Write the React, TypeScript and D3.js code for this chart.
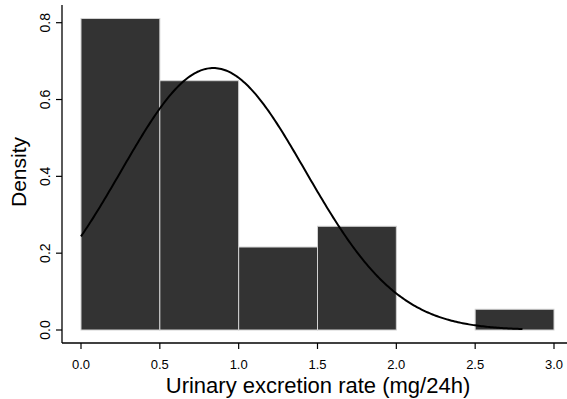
import React from "react";
import * as d3 from "d3";

// Histogram bins (lower edges, width 0.5) and their densities
const binStarts = [0.0, 0.5, 1.0, 1.5, 2.0, 2.5];
const binWidth = 0.5;
const densities = [0.811, 0.649, 0.216, 0.27, 0.0, 0.054];

// Fitted normal density overlay
const normalMean = 0.839;
const normalSd = 0.585;
const curveRange = [0.0, 2.8];

const xTicks = [0, 0.5, 1, 1.5, 2, 2.5, 3];
const yTicks = [0, 0.2, 0.4, 0.6, 0.8];

const W = 567;
const H = 399;

export default function App() {
  const x = d3.scaleLinear().domain([0, 3]).range([81, 554]);
  const y = d3.scaleLinear().domain([0, 0.8]).range([330, 22.7]);

  const axisX = 62;
  const axisY = 343;
  const axisTop = 5;

  const pdf = (v: number) =>
    Math.exp(-((v - normalMean) ** 2) / (2 * normalSd * normalSd)) /
    (normalSd * Math.sqrt(2 * Math.PI));
  const curvePts = d3
    .range(curveRange[0], curveRange[1] + 1e-9, 0.01)
    .map((v) => [v, pdf(v)] as [number, number]);
  const line = d3
    .line<[number, number]>()
    .x((d) => x(d[0]))
    .y((d) => y(d[1]));

  const font = "'Liberation Sans', Arial, Helvetica, sans-serif";

  return (
    <svg
      width={W}
      height={H}
      style={{ position: "absolute", left: 0, top: 0, background: "#fff" }}
      fontFamily={font}
    >
      <rect x={0} y={0} width={W} height={H} fill="#fff" />
      {binStarts.map((b, i) => (
        <rect
          key={i}
          x={x(b)}
          y={y(densities[i])}
          width={x(b + binWidth) - x(b)}
          height={y(0) - y(densities[i])}
          fill="#333333"
          stroke="#d2d2d2"
          strokeWidth={1}
        />
      ))}
      <path d={line(curvePts) || ""} fill="none" stroke="#000" strokeWidth={2} />

      {/* axes */}
      <line x1={axisX} x2={axisX} y1={axisTop} y2={axisY} stroke="#000" strokeWidth={1.3} />
      <line x1={axisX} x2={W} y1={axisY} y2={axisY} stroke="#000" strokeWidth={1.3} />

      {yTicks.map((t) => (
        <g key={t}>
          <line x1={axisX - 6} x2={axisX} y1={y(t)} y2={y(t)} stroke="#000" strokeWidth={1.2} />
          <text
            transform={`translate(50,${y(t)}) rotate(-90)`}
            textAnchor="middle"
            fontSize={14}
            fill="#000"
          >
            {t.toFixed(1)}
          </text>
        </g>
      ))}
      {xTicks.map((t) => (
        <g key={t}>
          <line x1={x(t)} x2={x(t)} y1={axisY} y2={axisY + 6} stroke="#000" strokeWidth={1.2} />
          <text x={x(t)} y={369} textAnchor="middle" fontSize={13} fill="#000">
            {t.toFixed(1)}
          </text>
        </g>
      ))}

      <text
        transform={`translate(26,172) rotate(-90)`}
        textAnchor="middle"
        fontSize={21}
        fill="#000"
      >
        Density
      </text>
      <text x={318} y={393} textAnchor="middle" fontSize={22} fill="#000">
        Urinary excretion rate (mg/24h)
      </text>
    </svg>
  );
}
